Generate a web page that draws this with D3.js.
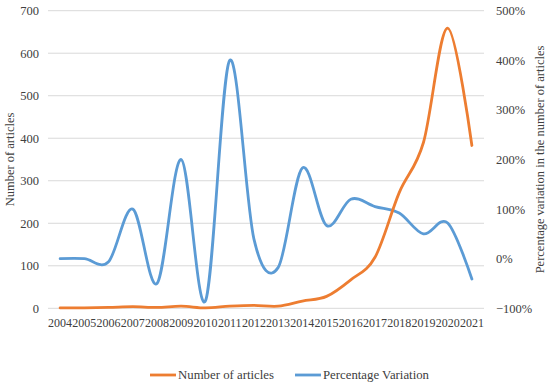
<!DOCTYPE html>
<html>
<head>
<meta charset="utf-8">
<script src="https://cdn.jsdelivr.net/npm/d3@7"></script>
<style>
  body { margin: 0; background: #fff; }
  text { font-family: "Liberation Serif", "Times New Roman", serif; fill: #404040; }
</style>
</head>
<body>
<div id="chart"></div>
<script>
// Data
var years = ["2004","2005","2006","2007","2008","2009","2010","2011","2012",
             "2013","2014","2015","2016","2017","2018","2019","2020","2021"];
var articles = [1, 1, 2, 4, 2, 5, 1, 5, 7, 5, 17, 28, 67, 120, 272, 390, 659, 383];
var variation = [0, 0, -6, 100, -50, 200, -85, 400, 40, -18, 183, 67, 120, 105, 92, 50, 72, -41];
var leftTicks = [0, 100, 200, 300, 400, 500, 600, 700];
var rightTicks = [-100, 0, 100, 200, 300, 400, 500];

var width = 550, height = 385;
var margin = {top: 10.7, right: 66, bottom: 76.7, left: 48};

var svg = d3.select("#chart")
  .append("svg")
    .attr("width", width)
    .attr("height", height);

var x = d3.scaleBand()
  .domain(years)
  .range([margin.left, width - margin.right]);

var yLeft = d3.scaleLinear()
  .domain([0, 700])
  .range([height - margin.bottom, margin.top]);

var yRight = d3.scaleLinear()
  .domain([-100, 500])
  .range([height - margin.bottom, margin.top]);

// gridlines
svg.append("g")
  .selectAll("line")
  .data(leftTicks)
  .enter()
  .append("line")
    .attr("x1", margin.left)
    .attr("x2", width - margin.right)
    .attr("y1", function(d) { return yLeft(d); })
    .attr("y2", function(d) { return yLeft(d); })
    .style("stroke", "#d9d9d9")
    .style("stroke-width", 1);

// left axis
var gl = svg.append("g")
  .attr("transform", "translate(" + margin.left + ",0)")
  .call(d3.axisLeft(yLeft).tickValues(leftTicks).tickSize(0).tickPadding(9));
gl.select(".domain").remove();
gl.selectAll("text").style("font-size", "12.5px").attr("fill", "#404040")
  .style("font-family", "'Liberation Serif', serif");

// right axis
var gr = svg.append("g")
  .attr("transform", "translate(" + (width - margin.right) + ",0)")
  .call(d3.axisRight(yRight).tickValues(rightTicks).tickSize(0).tickPadding(12)
        .tickFormat(function(d) { return (d < 0 ? "\u2212" + (-d) : d) + "%"; }));
gr.select(".domain").remove();
gr.selectAll("text").style("font-size", "12.5px").attr("fill", "#404040")
  .style("font-family", "'Liberation Serif', serif");

// bottom axis
var gb = svg.append("g")
  .attr("transform", "translate(0," + (height - margin.bottom) + ")")
  .call(d3.axisBottom(x).tickSize(0).tickPadding(10));
gb.select(".domain").remove();
gb.selectAll("text").style("font-size", "12px").attr("fill", "#404040")
  .style("font-family", "'Liberation Serif', serif");

// axis titles
svg.append("text")
  .attr("transform", "translate(10," + ((margin.top + height - margin.bottom) / 2) + ") rotate(-90)")
  .attr("text-anchor", "middle")
  .attr("dy", "0.35em")
  .style("font-size", "12.5px")
  .text("Number of articles");

svg.append("text")
  .attr("transform", "translate(540," + ((margin.top + height - margin.bottom) / 2) + ") rotate(-90)")
  .attr("text-anchor", "middle")
  .attr("dy", "0.35em")
  .style("font-size", "12.5px")
  .text("Percentage variation in the number of articles");

var cx = function(d, i) { return x(years[i]) + x.bandwidth() / 2; };

var lineArticles = d3.line()
  .x(cx)
  .y(function(d) { return yLeft(d); })
  .curve(d3.curveCardinal.tension(0));

var lineVariation = d3.line()
  .x(cx)
  .y(function(d) { return yRight(d); })
  .curve(d3.curveCardinal.tension(0));

svg.append("path")
  .datum(variation)
  .attr("d", lineVariation)
  .style("fill", "none")
  .style("stroke", "#5b9bd5")
  .style("stroke-width", 2.8)
  .style("stroke-linecap", "round");

svg.append("path")
  .datum(articles)
  .attr("d", lineArticles)
  .style("fill", "none")
  .style("stroke", "#ed7d31")
  .style("stroke-width", 2.8)
  .style("stroke-linecap", "round");

// legend
var legend = [
  {label: "Number of articles", color: "#ed7d31", x: 150},
  {label: "Percentage Variation", color: "#5b9bd5", x: 295}
];
var lg = svg.append("g").selectAll("g")
  .data(legend)
  .enter()
  .append("g")
    .attr("transform", function(d) { return "translate(" + d.x + ",375)"; });
lg.append("line")
  .attr("x1", 0).attr("x2", 26)
  .style("stroke", function(d) { return d.color; })
  .style("stroke-width", 2.8);
lg.append("text")
  .attr("x", 28)
  .attr("dy", "0.35em")
  .style("font-size", "12.8px")
  .text(function(d) { return d.label; });
</script>
</body>
</html>
